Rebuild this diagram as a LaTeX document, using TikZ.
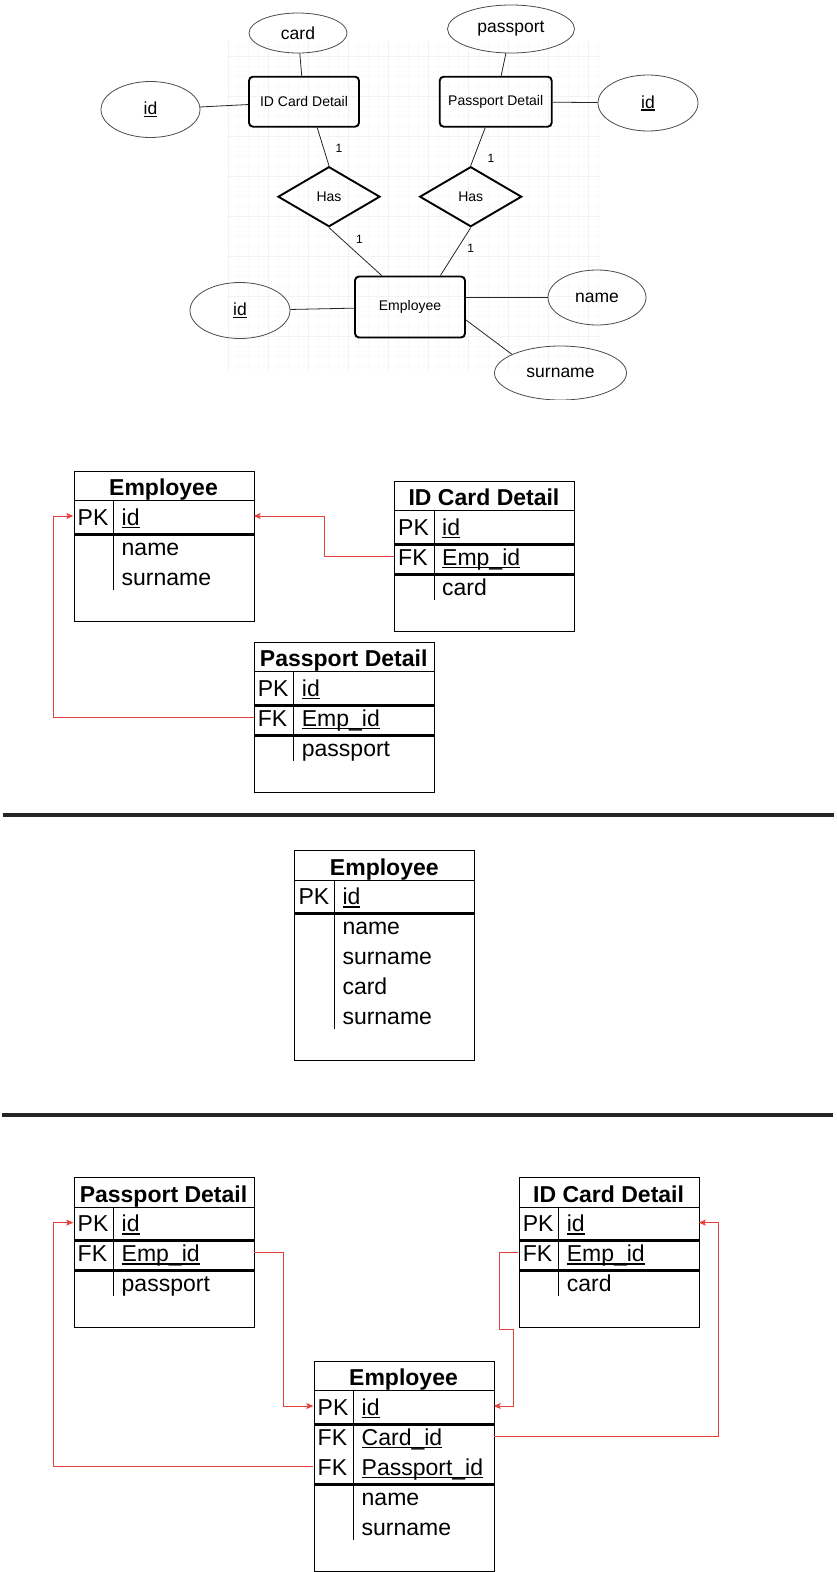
\documentclass[tikz,border=0pt]{standalone}
\usepackage{fontspec}
\setmainfont{Liberation Sans}
\usetikzlibrary{shapes.geometric,arrows.meta,calc}
\definecolor{fkred}{RGB}{232,65,60}
\newcommand\uln[1]{\setbox0\hbox{#1}\rlap{\rule[-0.15em]{\wd0}{0.07em}}\box0}
\newcommand\rowfont{\fontsize{23}{27}\selectfont}
\newcommand\ttlfont{\fontsize{23}{27}\selectfont\bfseries}
\newcommand\erboxfont{\fontsize{14}{16}\selectfont}
\newcommand\erellfont{\fontsize{17.5}{20}\selectfont}
\newcommand\eronefont{\fontsize{12}{14}\selectfont}
\newcommand\dbframe[5]{%
  \node[dbbox, anchor=north west, minimum height={30pt*(#4+2)}] (#1) at (#2,#3) {};
  \node[dbtitle] (#1-t) at ({#2+90},{#3+25}) {#5};
  \draw[dbthin] (#2,{#3+30}) -- ++(180,0);
  \draw[dbthin] ({#2+40},{#3+30}) -- ({#2+40},{#3+30+30*#4-1});
}
\newcommand\dbrow[6]{%
  \node[dbrowbox] (#1) at ({#2+90},{#3+30+15.3+30*#4}) {};
  \node[dbtxt] (#1-k) at ({#2+4},{#3+30+24.3+30*#4}) {#5};
  \node[dbtxt] (#1-f) at ({#2+48},{#3+30+24.3+30*#4}) {#6};
}
\newcommand\dbthick[3]{\draw[dbthk] (#1,{#2+30+30*#3+3.5}) -- ++(180,0);}
\begin{document}
\begin{tikzpicture}[x=1pt,y=-1pt,
  gridminor/.style={draw=black!2,line width=0.6pt},
  gridmajor/.style={draw=black!5,line width=0.6pt},
  erent/.style={draw,rounded corners=4pt,line width=1.9pt,minimum width=110pt,minimum height=50pt,inner sep=0pt,font=\erboxfont},
  errel/.style={diamond,draw,line width=1.9pt,minimum width=102pt,minimum height=60pt,inner sep=0pt,font=\erboxfont},
  erattr/.style={ellipse,draw=black!70,line width=0.8pt,inner sep=0pt,font=\erellfont},
  erline/.style={draw=black!85,line width=0.8pt},
  erlab/.style={font=\eronefont,inner sep=0pt},
  dbbox/.style={draw,line width=1.1pt,minimum width=180pt,inner sep=0pt},
  dbtitle/.style={anchor=base,inner sep=0pt,font=\ttlfont},
  dbthin/.style={line width=1pt},
  dbthk/.style={line width=3pt},
  dbrowbox/.style={minimum width=180pt,minimum height=30pt,inner sep=0pt},
  dbtxt/.style={anchor=base west,inner sep=0pt,font=\rowfont},
  fk/.style={draw=fkred,line width=0.9pt,-{Stealth[length=7pt,width=6pt,inset=1.5pt]}},
  sepline/.style={draw=black!85,line width=3.5pt}
]
\useasboundingbox (0,0) rectangle (836,1572);
\fill[white] (0,0) rectangle (836,1572);

% ---------- ER diagram ----------
\begin{scope}
\clip (227,40) rectangle (600,370);
\foreach \gx in {228,238,...,598} \draw[gridminor] (\gx,40) -- (\gx,370);
\foreach \gy in {46.7,56.7,...,366.7} \draw[gridminor] (227,\gy) -- (600,\gy);
\foreach \gx in {228,268,...,588} \draw[gridmajor] (\gx,40) -- (\gx,370);
\foreach \gy in {56.7,96.7,...,336.7} \draw[gridmajor] (227,\gy) -- (600,\gy);
\end{scope}

\begin{scope}
\clip (0,0) rectangle (836,399);
\node[erent] (idc) at (304,101.7) {ID Card Detail};
\node[erent,minimum width=112pt] (pas) at (495.7,101.7) {Passport Detail};
\node[erent,minimum height=61pt] (emp) at (410,307) {Employee};
\node[errel] (has1) at (329,196.7) {Has};
\node[errel] (has2) at (470.7,196.7) {Has};
\node[erattr,minimum width=98pt,minimum height=40pt] (card) at (298,33) {card};
\node[erattr,minimum width=99pt,minimum height=56pt] (id1) at (150.5,109.5) {\uln{id}};
\node[erattr,minimum width=127pt,minimum height=48pt] (pasa) at (511,29) {passport};
\node[erattr,minimum width=100pt,minimum height=56pt] (id2) at (648,103) {\uln{id}};
\node[erattr,minimum width=100pt,minimum height=56pt] (id3) at (240,310.5) {\uln{id}};
\node[erattr,minimum width=98pt,minimum height=55pt] (name) at (597,297.5) {name};
\node[erattr,minimum width=132pt,minimum height=54pt] (surn) at (560.5,373) {surname};

\draw[erline] (card) -- (idc);
\draw[erline] (id1) -- (idc);
\draw[erline] (pasa) -- (pas);
\draw[erline] (pas) -- (id2);
\draw[erline] (idc.-63.4) -- (has1.north);
\draw[erline] (has1.south) -- (emp.132.7);
\draw[erline] (pas.-112.4) -- (has2.north);
\draw[erline] (has2.south) -- (emp.46.8);
\draw[erline] (id3) -- (emp);
\draw[erline] (emp.east |- name.west) -- (name.west);
\draw[erline] (emp.-13.3) -- (surn.159.8);

\node[erlab] (l1) at (339,148) {1};
\node[erlab] (l2) at (359.5,239) {1};
\node[erlab] (l3) at (491,158) {1};
\node[erlab] (l4) at (470.7,248) {1};
\end{scope}

% ---------- Section 2 ----------
\dbframe{e1}{73.5}{470.7}{3}{Employee}
\dbrow{e1pk}{73.5}{470.7}{0}{PK}{\uln{id}}
\dbrow{e1nm}{73.5}{470.7}{1}{}{name}
\dbrow{e1sn}{73.5}{470.7}{2}{}{surname}
\dbthick{73.5}{470.7}{1}

\dbframe{i1}{394}{480.7}{3}{ID Card Detail}
\dbrow{i1pk}{394}{480.7}{0}{PK}{\uln{id}}
\dbrow{i1fk}{394}{480.7}{1}{FK}{\uln{Emp\_id}}
\dbrow{i1cd}{394}{480.7}{2}{}{card}
\dbthick{394}{480.7}{1}
\dbthick{394}{480.7}{2}

\dbframe{p1}{253.7}{641.7}{3}{Passport Detail}
\dbrow{p1pk}{253.7}{641.7}{0}{PK}{\uln{id}}
\dbrow{p1fk}{253.7}{641.7}{1}{FK}{\uln{Emp\_id}}
\dbrow{p1ps}{253.7}{641.7}{2}{}{passport}
\dbthick{253.7}{641.7}{1}
\dbthick{253.7}{641.7}{2}

\coordinate (j1) at (324,0);
\coordinate (j2) at (53.4,0);
\draw[fk] (i1fk.west) -- (i1fk.west -| j1) |- (e1pk.east);
\draw[fk] (p1fk.west) -- (p1fk.west -| j2) |- (e1pk.west);

% ---------- separators ----------
\draw[sepline] (2.7,815) -- (834.4,815);
\draw[sepline] (1.6,1115) -- (833,1115);

% ---------- Middle ----------
\dbframe{em}{294.3}{850}{5}{Employee}
\dbrow{empk}{294.3}{850}{0}{PK}{\uln{id}}
\dbrow{emnm}{294.3}{850}{1}{}{name}
\dbrow{emsn}{294.3}{850}{2}{}{surname}
\dbrow{emcd}{294.3}{850}{3}{}{card}
\dbrow{emsb}{294.3}{850}{4}{}{surname}
\dbthick{294.3}{850}{1}

% ---------- Section 3 ----------
\dbframe{p2}{73.5}{1177.3}{3}{Passport Detail}
\dbrow{p2pk}{73.5}{1177.3}{0}{PK}{\uln{id}}
\dbrow{p2fk}{73.5}{1177.3}{1}{FK}{\uln{Emp\_id}}
\dbrow{p2ps}{73.5}{1177.3}{2}{}{passport}
\dbthick{73.5}{1177.3}{1}
\dbthick{73.5}{1177.3}{2}

\dbframe{i2}{518.6}{1177.3}{3}{ID Card Detail}
\dbrow{i2pk}{518.6}{1177.3}{0}{PK}{\uln{id}}
\dbrow{i2fk}{518.6}{1177.3}{1}{FK}{\uln{Emp\_id}}
\dbrow{i2cd}{518.6}{1177.3}{2}{}{card}
\dbthick{518.6}{1177.3}{1}
\dbthick{518.6}{1177.3}{2}

\dbframe{e2}{313.5}{1360.7}{5}{Employee}
\dbrow{e2pk}{313.5}{1360.7}{0}{PK}{\uln{id}}
\dbrow{e2cd}{313.5}{1360.7}{1}{FK}{\uln{Card\_id}}
\dbrow{e2ps}{313.5}{1360.7}{2}{FK}{\uln{Passport\_id}}
\dbrow{e2nm}{313.5}{1360.7}{3}{}{name}
\dbrow{e2sn}{313.5}{1360.7}{4}{}{surname}
\dbthick{313.5}{1360.7}{1}
\dbthick{313.5}{1360.7}{3}

\coordinate (j3) at (283.3,0);
\coordinate (j4) at (499,0);
\coordinate (j4b) at (513.3,1329);
\coordinate (j5) at (718.5,0);
\coordinate (j6) at (53.4,0);
\draw[fk] (p2fk.east) -- (p2fk.east -| j3) |- (e2pk.west);
\draw[fk] (i2fk.west) -- (i2fk.west -| j4) |- (j4b) |- (e2pk.east);
\draw[fk] (e2cd.east) -- (e2cd.east -| j5) |- (i2pk.east);
\draw[fk] (e2ps.west) -- (e2ps.west -| j6) |- (p2pk.west);
\end{tikzpicture}
\end{document}
